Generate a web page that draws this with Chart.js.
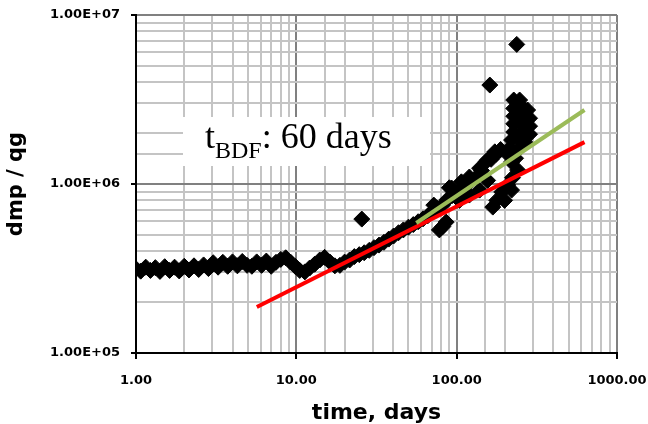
<!DOCTYPE html>
<html>
<head>
<meta charset="utf-8">
<script src="https://cdn.jsdelivr.net/npm/chart.js@4/dist/chart.umd.min.js"></script>
<style>
  html, body { margin: 0; padding: 0; background: #fff; }
  #wrap { width: 648px; height: 424px; }
</style>
</head>
<body>
<div id="wrap"><canvas id="myChart"></canvas></div>
<script>
// measured points (time in days, dmp/qg)
const timeDays = [
    1.00, 1.07, 1.15, 1.23, 1.32, 1.41, 1.51, 1.62, 1.74, 1.86,
    2.00, 2.14, 2.30, 2.46, 2.64, 2.83, 3.03, 3.25, 3.48, 3.73,
    4.00, 4.29, 4.60, 4.93, 5.28, 5.66, 6.07, 6.50, 6.97, 7.47,
    8.00, 8.58, 9.20, 9.86, 10.5, 11.3, 12.1, 13.0, 14.0, 15.0,
    16.2, 17.4, 18.7, 20.0, 21.5, 23.0, 24.7, 26.5, 28.5, 30.5,
    32.8, 35.2, 37.7, 40.4, 43.4, 46.5, 50.0, 53.6, 57.5, 61.7,
    66.0, 71.0, 72.0, 76.0, 78.0, 81.6, 82.0, 86.0, 87.5, 90.0,
    94.0, 101, 108, 116, 124, 133, 143, 153, 164, 176, 188,
    93, 107, 120, 139, 156, 173, 104, 120, 139, 156,
    168, 178, 191, 199, 208, 220, 223, 240,
    227, 247, 227, 254, 277, 227, 254, 285, 227, 254, 285,
    227, 254, 285, 220, 247, 269, 214, 240, 208, 233, 220,
    25.6, 161, 237
];
const dmpQg = [
    3.15e5, 3.05e5, 3.22e5, 3.08e5, 3.20e5, 3.04e5, 3.24e5, 3.08e5, 3.22e5, 3.06e5,
    3.26e5, 3.10e5, 3.28e5, 3.12e5, 3.32e5, 3.16e5, 3.42e5, 3.22e5, 3.44e5, 3.26e5,
    3.46e5, 3.28e5, 3.48e5, 3.30e5, 3.26e5, 3.46e5, 3.30e5, 3.50e5, 3.26e5, 3.44e5,
    3.58e5, 3.66e5, 3.45e5, 3.25e5, 3.08e5, 3.02e5, 3.18e5, 3.35e5, 3.55e5, 3.68e5,
    3.45e5, 3.28e5, 3.30e5, 3.45e5, 3.55e5, 3.72e5, 3.82e5, 3.92e5, 4.05e5, 4.20e5,
    4.35e5, 4.52e5, 4.72e5, 4.92e5, 5.15e5, 5.35e5, 5.55e5, 5.75e5, 5.98e5, 6.22e5,
    6.48e5, 6.90e5, 7.50e5, 7.15e5, 5.35e5, 7.50e5, 5.60e5, 5.95e5, 8.10e5, 9.50e5,
    8.55e5, 8.90e5, 9.30e5, 9.90e5, 1.05e6, 1.10e6, 1.20e6, 1.36e6, 1.40e6, 1.50e6, 1.60e6,
    9.46e5, 1.03e6, 1.10e6, 1.24e6, 1.39e6, 1.55e6, 8.0e5, 8.6e5, 9.2e5, 1.05e6,
    7.3e5, 8.0e5, 8.97e5, 8.0e5, 9.86e5, 9.2e5, 1.09e6, 1.21e6,
    3.14e6, 3.14e6, 2.80e6, 2.88e6, 2.74e6, 2.52e6, 2.56e6, 2.45e6, 2.27e6, 2.27e6, 2.20e6,
    2.03e6, 2.00e6, 1.97e6, 1.82e6, 1.82e6, 1.75e6, 1.63e6, 1.59e6, 1.50e6, 1.42e6, 1.35e6,
    6.2e5, 3.85e6, 6.7e6
];

// straight-line fits on the log-log plot
const redX = [5.67, 627];
const redY = [1.87e5, 1.77e6];
const greenX = [56, 627];
const greenY = [5.88e5, 2.74e6];

const xMin = 1, xMax = 1000;
const yMin = 1e5, yMax = 1e7;

function isDecade(v) {
    const l = Math.log10(v);
    return Math.abs(l - Math.round(l)) < 1e-9;
}

const toPoints = (xs, ys) => xs.map((x, i) => ({x: x, y: ys[i]}));

// white label box with subscript text
const bdfLabel = {
    id: "bdfLabel",
    beforeDatasetsDraw(chart) {
        const ctx = chart.ctx;
        ctx.save();
        ctx.fillStyle = "#fff";
        ctx.fillRect(183, 117, 247, 49);
        ctx.fillStyle = "#000";
        ctx.textBaseline = "alphabetic";
        ctx.font = "36px 'Liberation Serif'";
        ctx.fillText("t", 205, 148);
        let x = 205 + ctx.measureText("t").width;
        ctx.font = "24px 'Liberation Serif'";
        ctx.fillText("BDF", x, 158);
        x += ctx.measureText("BDF").width;
        ctx.font = "36px 'Liberation Serif'";
        ctx.fillText(": 60 days", x, 148);
        ctx.restore();
    }
};

function gridColor(c) {
    if (!c.tick) return "#c0c0c0";
    return isDecade(c.tick.value) ? "#808080" : "#c4c4c4";
}
function tickColor(c) {
    if (!c.tick) return "rgba(0,0,0,0)";
    return isDecade(c.tick.value) ? "#000" : "rgba(0,0,0,0)";
}

const ctx = document.getElementById("myChart");
new Chart(ctx, {
    type: "scatter",
    data: {
        datasets: [{
            label: "green",
            data: toPoints(greenX, greenY),
            showLine: true,
            borderColor: "#9bbb59",
            borderWidth: 4,
            pointRadius: 0,
        }, {
            label: "red",
            data: toPoints(redX, redY),
            showLine: true,
            borderColor: "#ff0000",
            borderWidth: 4,
            pointRadius: 0,
        }, {
            label: "dmp/qg",
            data: toPoints(timeDays, dmpQg),
            pointStyle: "rectRot",
            pointRadius: 8,
            pointBackgroundColor: "#000",
            pointBorderColor: "#000",
            pointBorderWidth: 1,
        }]
    },
    options: {
        responsive: true,
        maintainAspectRatio: false,
        animation: false,
        events: [],
        layout: {padding: {top: 15, right: 31, left: 0, bottom: 0}},
        plugins: {
            legend: {display: false},
            tooltip: {enabled: false}
        },
        scales: {
            x: {
                type: "logarithmic",
                min: xMin,
                max: xMax,
                afterFit(scale) {
                    scale.height = 71;
                    scale.paddingLeft = 0;
                    scale.paddingRight = 0;
                },
                grid: {color: gridColor, lineWidth: 2, tickColor: tickColor, tickLength: 6, tickWidth: 2},
                border: {color: "#000", width: 2},
                ticks: {
                    autoSkip: false,
                    maxRotation: 0,
                    padding: 14,
                    color: "#000",
                    font: {family: "'DejaVu Sans'", size: 13, weight: "bold"},
                    callback: (v) => isDecade(v) ? Number(v).toFixed(2) : ""
                },
                title: {
                    display: true,
                    text: "time, days",
                    color: "#000",
                    padding: 0,
                    font: {family: "'DejaVu Sans'", size: 22, weight: "bold", lineHeight: 1}
                }
            },
            y: {
                type: "logarithmic",
                min: yMin,
                max: yMax,
                afterFit(scale) {
                    scale.width = 136;
                    scale.paddingTop = 0;
                    scale.paddingBottom = 0;
                },
                grid: {color: gridColor, lineWidth: 2, tickColor: tickColor, tickLength: 5, tickWidth: 2},
                border: {color: "#000", width: 2},
                ticks: {
                    autoSkip: false,
                    padding: 11,
                    color: "#000",
                    font: {family: "'DejaVu Sans'", size: 13, weight: "bold"},
                    callback: (v) => isDecade(v) ? "1.00E+" + String(Math.round(Math.log10(v))).padStart(2, "0") : ""
                },
                title: {
                    display: true,
                    text: "dmp / qg",
                    color: "#000",
                    padding: {top: 6, bottom: 0},
                    font: {family: "'DejaVu Sans'", size: 21, weight: "bold", lineHeight: 1}
                }
            }
        }
    },
    plugins: [bdfLabel]
});
</script>
</body>
</html>
